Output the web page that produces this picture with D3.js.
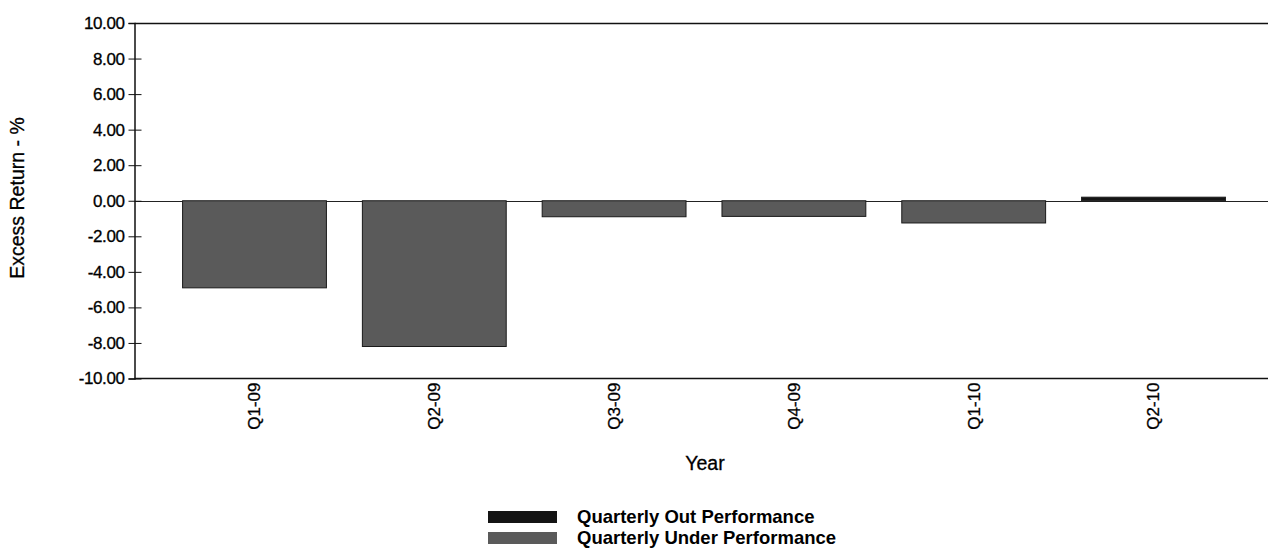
<!DOCTYPE html>
<html>
<head>
<meta charset="utf-8">
<script src="https://cdn.jsdelivr.net/npm/d3@7"></script>
<style>
  html, body { margin: 0; padding: 0; background: #fff; }
  svg { display: block; font-family: Arial, "Liberation Sans", sans-serif; }
</style>
</head>
<body>
<svg id="chart" width="1268" height="553"></svg>
<script>
const categories = ["Q1-09", "Q2-09", "Q3-09", "Q4-09", "Q1-10", "Q2-10"];
const excessReturn = [-4.9, -8.2, -0.9, -0.88, -1.25, 0.2];
const yTicks = [10, 8, 6, 4, 2, 0, -2, -4, -6, -8, -10];
const seriesNames = ["Quarterly Out Performance", "Quarterly Under Performance"];
const seriesColors = ["#141414", "#5a5a5a"];

const svg = d3.select("#chart");
const axisLeftX = 134.5, plotRight = 1268, plotTop = 23, plotBottom = 378.5;

const y = d3.scaleLinear().domain([-10, 10]).range([plotBottom, plotTop]);
const x = d3.scaleBand().domain(categories).range([164.6, 1243.4]).paddingInner(0.2).paddingOuter(0.1);

// top border
svg.append("line").attr("x1", axisLeftX).attr("x2", plotRight)
  .attr("y1", plotTop + 0.5).attr("y2", plotTop + 0.5)
  .attr("stroke", "#111").attr("stroke-width", 1.5);

// zero line
svg.append("line").attr("x1", axisLeftX).attr("x2", plotRight)
  .attr("y1", Math.round(y(0)) + 0.5).attr("y2", Math.round(y(0)) + 0.5)
  .attr("stroke", "#222").attr("stroke-width", 1);

// bars
svg.append("g").selectAll("rect").data(categories).join("rect")
  .attr("x", d => x(d))
  .attr("width", x.bandwidth())
  .attr("y", (d, i) => y(Math.max(0, excessReturn[i])))
  .attr("height", (d, i) => Math.abs(y(excessReturn[i]) - y(0)))
  .attr("fill", (d, i) => excessReturn[i] >= 0 ? seriesColors[0] : seriesColors[1])
  .attr("stroke", "#1a1a1a").attr("stroke-width", 1);

// y axis
const fmt = v => d3.format(".2f")(v).replace("\u2212", "-");
const yAxis = d3.axisLeft(y).tickValues(yTicks).tickFormat(fmt).tickSize(6).tickPadding(4);
const gy = svg.append("g").attr("transform", `translate(${axisLeftX},0)`).call(yAxis);
gy.select(".domain").attr("stroke", "#111").attr("stroke-width", 1.5);
gy.selectAll(".tick line").attr("x2", -6).attr("x1", 7).attr("stroke", "#111");
gy.selectAll(".tick text").attr("font-size", 17).attr("fill", "#000")
  .attr("stroke", "#000").attr("stroke-width", 0.3)
  .attr("font-family", "Arial, 'Liberation Sans', sans-serif").attr("letter-spacing", -0.4);

// x axis
const xAxis = d3.axisBottom(x).tickSize(0).tickPadding(5);
const gx = svg.append("g").attr("transform", `translate(0,${plotBottom})`).call(xAxis);
gx.select(".domain").remove();
svg.append("line").attr("x1", axisLeftX).attr("x2", plotRight)
  .attr("y1", plotBottom).attr("y2", plotBottom)
  .attr("stroke", "#111").attr("stroke-width", 1.5);
gx.selectAll(".tick text")
  .attr("font-size", 17).attr("fill", "#000")
  .attr("stroke", "#000").attr("stroke-width", 0.3)
  .attr("font-family", "Arial, 'Liberation Sans', sans-serif")
  .attr("transform", "rotate(-90)")
  .attr("text-anchor", "end")
  .attr("x", -4).attr("y", 0).attr("dy", "0.35em");

// axis titles
svg.append("text").attr("transform", "translate(24,198) rotate(-90)")
  .attr("text-anchor", "middle").attr("font-size", 19.5)
  .attr("stroke", "#000").attr("stroke-width", 0.3).text("Excess Return - %");
svg.append("text").attr("x", 705).attr("y", 470)
  .attr("text-anchor", "middle").attr("font-size", 19.5)
  .attr("stroke", "#000").attr("stroke-width", 0.3).text("Year");

// legend
const lg = svg.append("g");
seriesNames.forEach((name, i) => {
  const ly = 511 + i * 21;
  lg.append("rect").attr("x", 488).attr("y", ly).attr("width", 69).attr("height", 12)
    .attr("fill", seriesColors[i]);
  lg.append("text").attr("x", 577).attr("y", ly + 6).attr("dy", "0.35em")
    .attr("font-size", 18.5).attr("font-weight", "bold").text(name);
});
</script>
</body>
</html>
